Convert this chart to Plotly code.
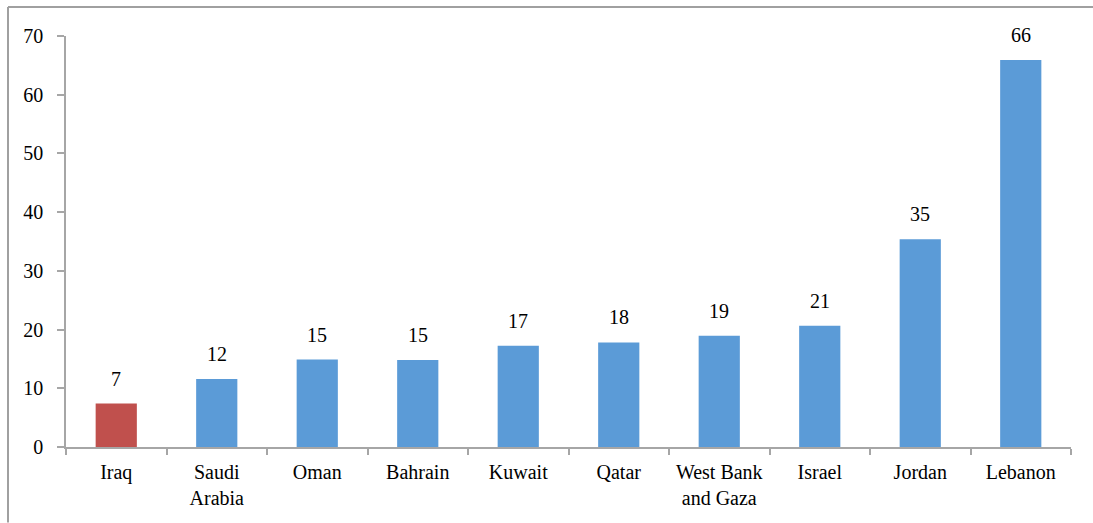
import plotly.graph_objects as go

countries = ["Iraq", "Saudi<br>Arabia", "Oman", "Bahrain", "Kuwait", "Qatar",
             "West Bank<br>and Gaza", "Israel", "Jordan", "Lebanon"]
values = [7.4, 11.6, 14.9, 14.8, 17.25, 17.8, 18.95, 20.65, 35.4, 65.9]
labels = ["7", "12", "15", "15", "17", "18", "19", "21", "35", "66"]
colors = ["#c0504d"] + ["#5b9bd7"] * 9

W, H = 1093, 523
ml, mr, mt, mb = 66, 22, 36, 75.5
pw, ph = W - ml - mr, H - mt - mb
FS = 20
FONT = "Liberation Serif"

fig = go.Figure()
fig.add_trace(go.Bar(
    x=countries, y=values,
    marker=dict(color=colors, line=dict(width=0)),
    hoverinfo="skip",
))

for c, v, t in zip(countries, values, labels):
    fig.add_annotation(x=c, y=v, text=t, showarrow=False, yanchor="bottom",
                       yshift=12, font=dict(family=FONT, size=FS, color="#000000"))

axis_col = "#a6a6a6"
fig.update_layout(
    width=W, height=H,
    margin=dict(l=ml, r=mr, t=mt, b=mb, pad=0, autoexpand=False),
    paper_bgcolor="white", plot_bgcolor="white",
    bargap=0.59,
    showlegend=False,
    font=dict(family=FONT, size=FS, color="#000000"),
    xaxis=dict(
        showgrid=False, showline=True, linecolor=axis_col, linewidth=1.5,
        ticks="outside", ticklen=6, tickcolor=axis_col, tickwidth=1.5,
        tickson="boundaries", ticklabelstandoff=6, tickangle=0, automargin=False,
        tickfont=dict(family=FONT, size=FS, color="#000000"),
    ),
    yaxis=dict(
        range=[0, 70], dtick=10, showgrid=False, zeroline=False,
        showline=True, linecolor=axis_col, linewidth=1.5,
        ticks="outside", ticklen=7, tickcolor=axis_col, tickwidth=1.5,
        ticklabelstandoff=10, automargin=False,
        tickfont=dict(family=FONT, size=FS, color="#000000"),
    ),
)

# outer chart frame (top and left edges)
x_left = (8 - ml) / pw
x_right = (W - ml) / pw
y_top = 1 + (mt - 7) / ph
y_bot = -mb / ph
fig.add_shape(type="line", xref="paper", yref="paper", x0=x_left, x1=x_right,
              y0=y_top, y1=y_top, line=dict(color="#a0a0a0", width=2))
fig.add_shape(type="line", xref="paper", yref="paper", x0=x_left, x1=x_left,
              y0=y_top, y1=y_bot, line=dict(color="#a0a0a0", width=2))

fig.write_html("out.html", config={"displayModeBar": False},
               post_script="document.body.style.margin='0';document.body.style.overflow='hidden';")
